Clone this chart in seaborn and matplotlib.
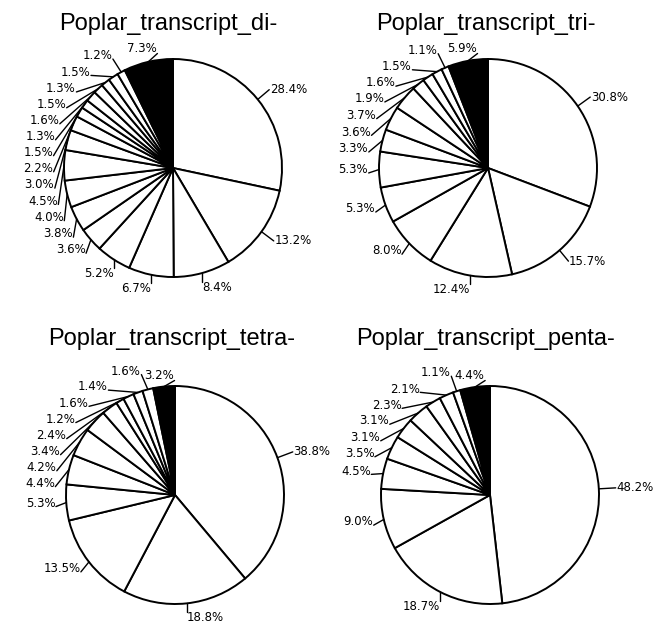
import numpy as np
import matplotlib
matplotlib.use("Agg")
import matplotlib.pyplot as plt
import seaborn as sns

sns.set_theme(style="white")
plt.rcParams['font.family'] = ['DejaVu Sans']

# ---- data (percent shares, clockwise from 12 o'clock) ----
titles = ["Poplar_transcript_di-", "Poplar_transcript_tri-",
          "Poplar_transcript_tetra-", "Poplar_transcript_penta-"]
di_values = [28.4, 13.2, 8.4, 6.7, 5.2, 3.6, 3.8, 4.0, 4.5, 3.0, 2.2,
             1.5, 1.3, 1.6, 1.5, 1.3, 1.5, 1.2, 7.3]
tri_values = [30.8, 15.7, 12.4, 8.0, 5.3, 5.3, 3.3, 3.6, 3.7, 1.9, 1.6,
              1.5, 1.1, 5.9]
tetra_values = [38.8, 18.8, 13.5, 5.3, 4.4, 4.2, 3.4, 2.4, 1.2, 1.6,
                1.4, 1.6, 3.2]
penta_values = [48.2, 18.7, 9.0, 4.5, 3.5, 3.1, 3.1, 2.3, 2.1, 1.1, 4.4]
all_values = [di_values, tri_values, tetra_values, penta_values]

W, H = 660, 627
fig = plt.figure(figsize=(W / 100, H / 100), dpi=100)
fig.patch.set_facecolor("white")
renderer = fig.canvas.get_renderer()

centers = [(173, 168), (488, 168), (175, 495), (490, 495)]
title_pos = [(168, 24), (486, 24), (172, 339), (485, 339)]
R_px = 109
L = 1.6
FS = 8.5


def data_bbox(ax, t):
    bb = t.get_window_extent(renderer=renderer)
    inv = ax.transData.inverted()
    (x0, y0), (x1, y1) = inv.transform([[bb.x0, bb.y0], [bb.x1, bb.y1]])
    return x0, y0, x1, y1


def overlaps(b, others, pad=0.025):
    for o in others:
        if (b[0] < o[2] + pad and b[2] > o[0] - pad and
                b[1] < o[3] + pad and b[3] > o[1] - pad):
            return True
    return False


for title, vals, (cx, cy), (tx, ty) in zip(titles, all_values, centers, title_pos):
    w = 2 * L * R_px / W
    h = 2 * L * R_px / H
    ax = fig.add_axes([cx / W - w / 2, 1 - cy / H - h / 2, w, h])
    colors = ["white"] * (len(vals) - 1) + ["black"]
    wedges, _ = ax.pie(vals, startangle=90, counterclock=False, colors=colors,
                       wedgeprops=dict(edgecolor="black", linewidth=1.4))
    ax.set_xlim(-L, L)
    ax.set_ylim(-L, L)
    ax.set_aspect("equal")
    ax.axis("off")

    mids = [(wd.theta1 + wd.theta2) / 2 for wd in wedges]
    n = len(vals)
    labels = [f"{v:.1f}%" for v in vals]
    placed = []

    # black (last) wedge label at the top
    m = np.deg2rad(mids[-1])
    x, y = 1.1 * np.cos(m) - 0.04, 1.1
    t = ax.text(x, y, labels[-1], ha="center", va="center", fontsize=FS, color="black")
    b = data_bbox(ax, t)
    placed.append(b)
    ax.plot([np.cos(m), b[2] + 0.01], [np.sin(m), b[1] + 0.01], color="black", lw=1.0)

    right = [i for i in range(n - 1) if np.cos(np.deg2rad(mids[i])) >= 0]
    left = [i for i in range(n - 1) if np.cos(np.deg2rad(mids[i])) < 0]
    left.sort(key=lambda i: mids[i] % 360)

    for i in right + left:
        m0 = mids[i]
        am = np.deg2rad(m0)
        axp, ayp = np.cos(am), np.sin(am)
        side_left = np.cos(am) < 0
        ha = "right" if side_left else "left"
        if np.sin(am) < -0.8:
            # bottom labels: just below the arc
            x, y = axp, ayp - 0.07
            t = ax.text(x, y, labels[i], ha=ha, va="top", fontsize=FS, color="black")
            placed.append(data_bbox(ax, t))
            ax.plot([axp, axp], [ayp, ayp - 0.08], color="black", lw=1.0)
            continue
        theta = m0
        t = ax.text(0, 0, labels[i], ha=ha, va="center", fontsize=FS, color="black")
        for _ in range(200):
            th = np.deg2rad(theta)
            if side_left:
                r = 1.1 + 0.08 * max(0.0, np.sin(th))
            else:
                r = 1.12 + 0.08 * max(0.0, np.cos(th) - 0.5)
            x, y = r * np.cos(th), r * np.sin(th)
            t.set_position((x, y))
            b = data_bbox(ax, t)
            if not overlaps(b, placed):
                break
            theta += 0.5 if side_left else -0.5
        placed.append(b)
        ex = b[2] + 0.005 if side_left else b[0] - 0.005
        ey = y - 0.03 if side_left else y
        ax.plot([axp, ex], [ayp, ey], color="black", lw=1.0)

    fig.text(tx / W, 1 - ty / H, title, ha="center", va="center",
             fontsize=17, family=["Liberation Sans", "DejaVu Sans"], color="black")

fig.savefig("out.png", dpi=100, facecolor="white")
